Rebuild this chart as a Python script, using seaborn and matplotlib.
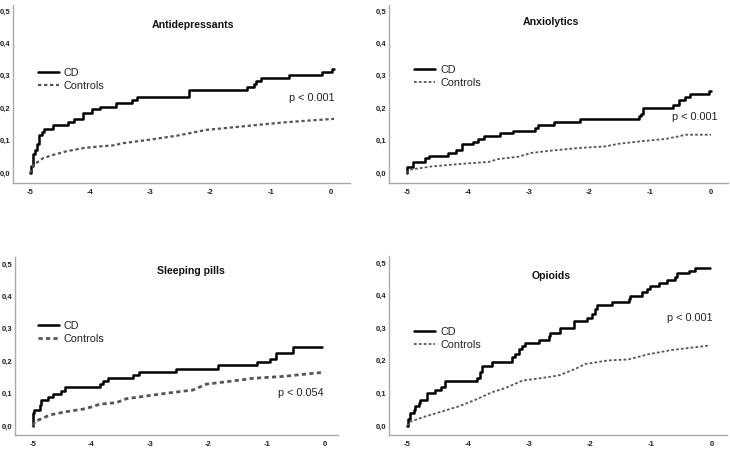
import numpy as np
import pandas as pd
import matplotlib
matplotlib.use("Agg")
import matplotlib.pyplot as plt
import seaborn as sns

# Antidepressants
antidep_cd_x = [-5.0, -4.99, -4.945, -4.917, -4.889, -4.85, -4.806, -4.762, -4.612, -4.374, -4.269,
                -4.114, -3.976, -3.837, -3.577, -3.30, -3.217, -2.36, -1.40, -1.279, -1.251, -1.168,
                -0.692, -0.155, 0.011, 0.055]
antidep_cd_y = [0.0, 0.021, 0.06, 0.07, 0.09, 0.116, 0.125, 0.137, 0.147, 0.157, 0.167,
                0.185, 0.196, 0.205, 0.216, 0.226, 0.234, 0.255, 0.264, 0.274, 0.283, 0.292,
                0.302, 0.312, 0.32, 0.32]
antidep_ctrl_x = [-5.0, -4.945, -4.78, -4.61, -4.39, -4.11, -3.84, -3.62, -3.45, -3.0, -2.56,
                  -2.07, -1.62, -1.18, -0.79, -0.35, 0.05]
antidep_ctrl_y = [0.0, 0.024, 0.046, 0.056, 0.067, 0.077, 0.082, 0.085, 0.092, 0.103, 0.115,
                  0.133, 0.141, 0.149, 0.156, 0.162, 0.167]

# Anxiolytics
anx_cd_x = [-5.0, -4.995, -4.90, -4.71, -4.63, -4.32, -4.19, -4.10, -3.91, -3.83, -3.74, -3.47,
            -3.25, -2.90, -2.84, -2.59, -2.15, -1.19, -1.15, -1.11, -0.62, -0.53, -0.42, -0.34,
            -0.04, 0.0]
anx_cd_y = [0.0, 0.017, 0.035, 0.045, 0.053, 0.062, 0.072, 0.088, 0.097, 0.106, 0.114, 0.122,
            0.131, 0.14, 0.149, 0.158, 0.166, 0.175, 0.183, 0.2, 0.21, 0.225, 0.235, 0.243,
            0.252, 0.252]
anx_ctrl_x = [-5.0, -4.96, -4.6, -4.05, -3.66, -3.5, -3.17, -2.95, -2.62, -2.18, -1.74, -1.52,
              -1.14, -0.75, -0.53, -0.42, 0.0]
anx_ctrl_y = [0.0, 0.01, 0.02, 0.029, 0.034, 0.043, 0.05, 0.062, 0.069, 0.077, 0.082, 0.09,
              0.098, 0.105, 0.113, 0.118, 0.118]

# Sleeping pills
sleep_cd_x = [-5.0, -4.995, -4.985, -4.886, -4.857, -4.743, -4.657, -4.514, -4.446, -3.857, -3.80,
              -3.714, -3.286, -3.183, -2.543, -1.829, -1.171, -0.943, -0.84, -0.554, -0.057]
sleep_cd_y = [0.0, 0.039, 0.049, 0.065, 0.08, 0.09, 0.10, 0.108, 0.119, 0.128, 0.138,
              0.147, 0.158, 0.167, 0.177, 0.188, 0.197, 0.207, 0.225, 0.244, 0.244]
sleep_ctrl_x = [-5.0, -4.97, -4.71, -4.43, -4.14, -3.97, -3.86, -3.57, -3.4, -3.0, -2.71, -2.26,
                -2.03, -1.57, -1.23, -0.71, -0.06]
sleep_ctrl_y = [0.0, 0.013, 0.034, 0.044, 0.052, 0.06, 0.067, 0.072, 0.084, 0.094, 0.101, 0.111,
                0.129, 0.139, 0.147, 0.153, 0.165]

# Opioids
opi_cd_x = [-5.0, -4.984, -4.945, -4.891, -4.863, -4.809, -4.781, -4.672, -4.536, -4.437, -4.372,
            -3.852, -3.798, -3.77, -3.607, -3.279, -3.224, -3.169, -3.115, -3.06, -2.842, -2.678,
            -2.65, -2.486, -2.268, -2.049, -1.967, -1.913, -1.885, -1.639, -1.366, -1.339, -1.148,
            -1.066, -1.011, -0.874, -0.738, -0.601, -0.574, -0.383, -0.273, -0.027]
opi_cd_y = [0.0, 0.02, 0.04, 0.05, 0.06, 0.07, 0.08, 0.10, 0.11, 0.12, 0.138,
            0.148, 0.165, 0.185, 0.196, 0.21, 0.22, 0.235, 0.245, 0.255, 0.265, 0.275,
            0.285, 0.302, 0.322, 0.332, 0.342, 0.36, 0.37, 0.38, 0.39, 0.40, 0.41,
            0.42, 0.43, 0.438, 0.448, 0.458, 0.468, 0.477, 0.486, 0.486]
opi_ctrl_x = [-5.0, -4.945, -4.7, -4.43, -4.15, -3.88, -3.61, -3.39, -3.11, -2.79, -2.51, -2.24,
              -2.08, -1.7, -1.37, -1.04, -0.66, -0.03]
opi_ctrl_y = [0.0, 0.013, 0.029, 0.044, 0.06, 0.08, 0.103, 0.116, 0.139, 0.147, 0.155, 0.175,
              0.19, 0.201, 0.204, 0.22, 0.233, 0.247]

titles = ["Antidepressants", "Anxiolytics", "Sleeping pills", "Opioids"]
p_labels = ["p < 0.001", "p < 0.001", "p < 0.054", "p < 0.001"]
x_ticks = [-5, -4, -3, -2, -1, 0]
y_ticks = [0.0, 0.1, 0.2, 0.3, 0.4, 0.5]
y_tick_labels = ["0,0", "0,1", "0,2", "0,3", "0,4", "0,5"]

sns.set_style("white")
plt.rcParams["font.family"] = ["Liberation Sans", "DejaVu Sans"]

W, H = 730, 450
fig = plt.figure(figsize=(7.3, 4.5), dpi=100)

# panel boxes in pixels: left, right, top, bottom
panels = [
    dict(box=(13, 350, 5, 183), xlim=(-5.282, 0.316), ylim=(-0.031, 0.5185),
         cd=(antidep_cd_x, antidep_cd_y), ctrl=(antidep_ctrl_x, antidep_ctrl_y),
         title_pos=(0.534, 0.888), leg=(0.074, 0.646), p_pos=(0.953, 0.478), ctrl_lw=1.6),
    dict(box=(389, 728, 5, 183), xlim=(-5.296, 0.28), ylim=(-0.031, 0.5185),
         cd=(anx_cd_x, anx_cd_y), ctrl=(anx_ctrl_x, anx_ctrl_y),
         title_pos=(0.478, 0.905), leg=(0.074, 0.663), p_pos=(0.97, 0.371), ctrl_lw=1.3),
    dict(box=(15, 338, 257, 435), xlim=(-5.308, 0.223), ylim=(-0.028, 0.5216),
         cd=(sleep_cd_x, sleep_cd_y), ctrl=(sleep_ctrl_x, sleep_ctrl_y),
         title_pos=(0.545, 0.921), leg=(0.071, 0.64), p_pos=(0.954, 0.236), ctrl_lw=2.0),
    dict(box=(389, 727, 256, 435), xlim=(-5.295, 0.246), ylim=(-0.028, 0.5216),
         cd=(opi_cd_x, opi_cd_y), ctrl=(opi_ctrl_x, opi_ctrl_y),
         title_pos=(0.479, 0.888), leg=(0.074, 0.603), p_pos=(0.956, 0.654), ctrl_lw=1.3),
]

for i, p in enumerate(panels):
    l, r, t, b = p["box"]
    ax = fig.add_axes([l / W, (H - b) / H, (r - l) / W, (b - t) / H])
    cd = pd.DataFrame({"time": p["cd"][0], "rate": p["cd"][1]})
    ctrl = pd.DataFrame({"time": p["ctrl"][0], "rate": p["ctrl"][1]})
    sns.lineplot(data=cd, x="time", y="rate", ax=ax, color="black", lw=1.8,
                 drawstyle="steps-post", label="CD", estimator=None)
    sns.lineplot(data=ctrl, x="time", y="rate", ax=ax, color="#555555", lw=p["ctrl_lw"],
                 linestyle=(0, (1.5, 1.2)), label="Controls", estimator=None)
    ax.set_xlim(*p["xlim"])
    ax.set_ylim(*p["ylim"])
    ax.set_xticks(x_ticks)
    ax.set_xticklabels([str(v) for v in x_ticks])
    ax.set_yticks(y_ticks)
    ax.set_yticklabels(y_tick_labels)
    ax.set_xlabel("")
    ax.set_ylabel("")
    ax.tick_params(length=0, labelsize=5.5, colors="#222222")
    ax.tick_params(axis="y", pad=2)
    ax.tick_params(axis="x", pad=4)
    for lab in ax.get_xticklabels() + ax.get_yticklabels():
        lab.set_fontweight("bold")
    for s in ["top", "right"]:
        ax.spines[s].set_visible(False)
    for s in ["left", "bottom"]:
        ax.spines[s].set_color("#aaaaaa")
        ax.spines[s].set_linewidth(1.0)
    ax.text(p["title_pos"][0], p["title_pos"][1], titles[i], transform=ax.transAxes,
            ha="center", va="center", fontsize=7.6, fontweight="bold", color="#111111")
    ax.text(p["p_pos"][0], p["p_pos"][1], p_labels[i], transform=ax.transAxes,
            ha="right", va="center", fontsize=7.8, color="#222222")
    leg = ax.legend(loc="upper left", bbox_to_anchor=p["leg"], frameon=False, fontsize=7.8,
                    borderpad=0, borderaxespad=0, handlelength=1.9, handletextpad=0.5,
                    labelspacing=0.25)
    for txt in leg.get_texts():
        txt.set_color("#222222")

fig.savefig("out.png", dpi=100)
